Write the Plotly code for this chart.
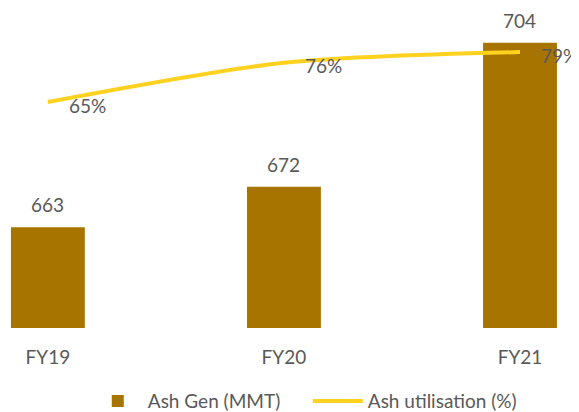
import plotly.graph_objects as go

categories = ["FY19", "FY20", "FY21"]
ash_gen = [663, 672, 704]
ash_util = [65, 76, 79]

BAR = "#A87400"
LINE = "#FFD21F"
TXT = "#595959"
FONT = "Lato"

fig = go.Figure()
fig.add_trace(go.Bar(x=categories, y=ash_gen, name="Ash Gen (MMT)",
                     marker=dict(color=BAR, line=dict(width=0)), width=0.313))
fig.add_trace(go.Scatter(x=categories, y=ash_util, name="Ash utilisation (%)",
                         mode="lines", yaxis="y2",
                         line=dict(color=LINE, width=4, shape="spline", smoothing=0.8)))

for c, v in zip(categories, ash_gen):
    fig.add_annotation(x=c, y=v, yref="y", text=str(v), showarrow=False,
                       yanchor="bottom", yshift=9, font=dict(size=19, color=TXT, family=FONT))
for c, v in zip(categories, ash_util):
    fig.add_annotation(x=c, y=v, yref="y2", text=f"{v}%", showarrow=False,
                       xanchor="left", yanchor="middle", xshift=19, yshift=-3,
                       font=dict(size=19, color=TXT, family=FONT))

fig.update_layout(
    width=571, height=404,
    margin=dict(l=0, r=0, t=2, b=84, autoexpand=False),
    paper_bgcolor="white", plot_bgcolor="white",
    font=dict(family=FONT, color=TXT, size=19),
    xaxis=dict(range=[-0.169, 2.25], showgrid=False, zeroline=False, showline=False,
               ticks="outside", ticklen=12, tickcolor="rgba(0,0,0,0)",
               tickfont=dict(size=19, color=TXT, family=FONT)),
    yaxis=dict(range=[640.6, 711.3], visible=False, showgrid=False),
    yaxis2=dict(range=[1.7, 90.8], overlaying="y", visible=False, showgrid=False),
    legend=dict(orientation="h", x=0.525, xanchor="center", y=-0.23, yanchor="middle",
                font=dict(size=19, color=TXT, family=FONT), itemwidth=50,
                entrywidth=155, entrywidthmode="pixels", traceorder="normal"),
    showlegend=True,
)

fig.write_html("out.html")
